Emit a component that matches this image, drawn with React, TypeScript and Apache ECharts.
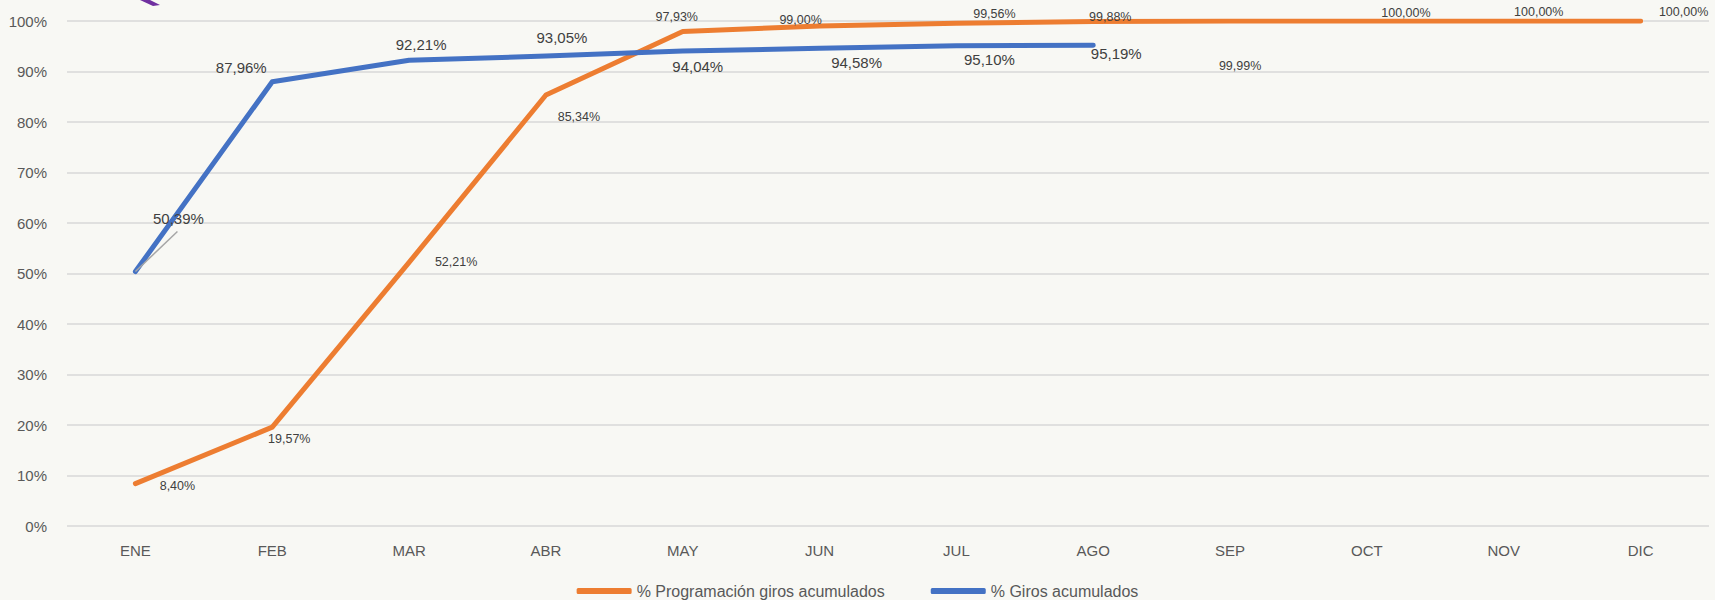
import React, { useEffect, useRef } from "react";
import * as echarts from "echarts";

const categories = ["ENE", "FEB", "MAR", "ABR", "MAY", "JUN", "JUL", "AGO", "SEP", "OCT", "NOV", "DIC"];
const programacion = [8.4, 19.57, 52.21, 85.34, 97.93, 99.0, 99.56, 99.88, 99.99, 100.0, 100.0, 100.0];
const giros = [50.39, 87.96, 92.21, 93.05, 94.04, 94.58, 95.1, 95.19];
const yTicks = [0, 10, 20, 30, 40, 50, 60, 70, 80, 90, 100];

// label offsets (style only)
const progOffsets: [number, number][] = [
  [42, 2], [17, 12], [47, 0], [33, 22], [-6, -14], [-19, -6],
  [38, -9], [17, -5], [10, 45], [39, -8], [35, -9], [43, -9],
];
const girosOffsets: [number, number][] = [
  [43, -53], [-31, -14], [12, -16], [16, -19], [15, 15], [37, 14], [33, 14], [23, 8],
];

const fmt = (v: number) => v.toFixed(2).replace(".", ",") + "%";
const FONT = "'Liberation Sans', Arial, sans-serif";

export default function App() {
  const ref = useRef<HTMLDivElement>(null);
  useEffect(() => {
    document.body.style.margin = "0";
    const chart = echarts.init(ref.current!, null, { renderer: "svg" });
    const option: any = {
      animation: false,
      backgroundColor: "#F8F8F4",
      textStyle: { fontFamily: FONT },
      grid: { left: 67, right: 6, top: 21, bottom: 74 },
      legend: {
        bottom: -4,
        left: "center",
        itemWidth: 55,
        itemHeight: 6,
        itemGap: 46,
        icon: "roundRect",
        textStyle: { color: "#595959", fontSize: 16, fontFamily: FONT },
        data: ["% Programación giros acumulados", "% Giros acumulados"],
      },
      xAxis: {
        type: "category",
        data: categories,
        boundaryGap: true,
        axisLine: { show: false },
        axisTick: { show: false },
        axisLabel: { color: "#595959", fontSize: 15, margin: 17, fontFamily: FONT },
      },
      yAxis: {
        type: "value",
        min: yTicks[0],
        max: yTicks[yTicks.length - 1],
        interval: 10,
        axisLabel: { color: "#595959", fontSize: 15, margin: 20, formatter: (v: number) => v + "%", fontFamily: FONT },
        splitLine: { lineStyle: { color: "#D9D9D9", width: 1.5 } },
        axisLine: { show: false },
        axisTick: { show: false },
      },
      series: [
        {
          name: "% Programación giros acumulados",
          type: "line",
          data: programacion.map((v, i) => ({ value: v, label: { offset: progOffsets[i] } })),
          symbol: "circle",
          symbolSize: 0.1,
          itemStyle: { color: "#ED7D31" },
          lineStyle: { color: "#ED7D31", width: 5, cap: "round", join: "round" },
          label: {
            show: true,
            position: "inside",
            color: "#404040",
            fontSize: 12.5,
            fontFamily: FONT,
            formatter: (p: any) => fmt(p.value),
          },
          z: 2,
        },
        {
          name: "% Giros acumulados",
          type: "line",
          data: giros.map((v, i) => ({ value: v, label: { offset: girosOffsets[i] } })),
          symbol: "circle",
          symbolSize: 0.1,
          itemStyle: { color: "#4472C4" },
          lineStyle: { color: "#4472C4", width: 5, cap: "round", join: "round" },
          label: {
            show: true,
            position: "inside",
            color: "#404040",
            fontSize: 15,
            fontFamily: FONT,
            formatter: (p: any) => fmt(p.value),
          },
          z: 3,
        },
      ],
    };
    chart.setOption(option);
    const p = chart.convertToPixel({ seriesIndex: 1 }, [0, giros[0]]) as number[];
    chart.setOption({
      graphic: [
        {
          type: "line",
          shape: { x1: p[0], y1: p[1], x2: p[0] + 42, y2: p[1] - 40 },
          style: { stroke: "#A6A6A6", lineWidth: 1.5 },
          z: 10,
        },
        {
          type: "polygon",
          shape: { points: [[140, 0], [150, 0], [160, 5], [153, 6]] },
          style: { fill: "#7030A0" },
        },
      ],
    });
    return () => chart.dispose();
  }, []);
  return <div ref={ref} style={{ position: "fixed", left: 0, top: 0, width: 1715, height: 600 }} />;
}
